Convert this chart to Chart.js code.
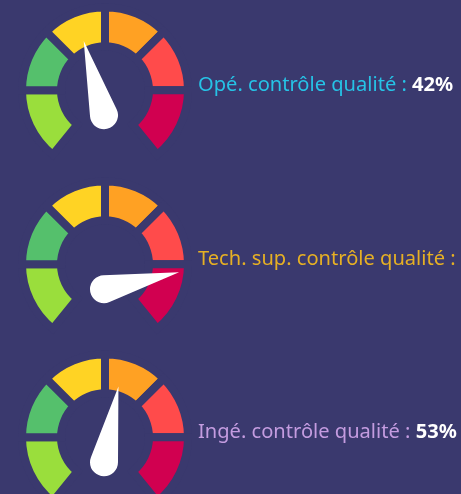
<!DOCTYPE html>
<html>
<head>
<meta charset="utf-8">
<script src="https://cdn.jsdelivr.net/npm/chart.js@4.4.1/dist/chart.umd.min.js"></script>
<style>
html, body { margin: 0; padding: 0; width: 461px; height: 494px; overflow: hidden; background: #3a396e; }
.gauge { position: absolute; left: 0; width: 210px; height: 162px; }
.label { position: absolute; left: 198px; white-space: nowrap; font-family: "Noto Sans", sans-serif; font-size: 20.1px; line-height: 24px; }
.label b { color: #ffffff; }
</style>
</head>
<body>
<canvas id="g0" class="gauge" width="210" height="162" style="top:0px"></canvas>
<canvas id="g1" class="gauge" width="210" height="162" style="top:174px"></canvas>
<canvas id="g2" class="gauge" width="210" height="162" style="top:347px"></canvas>
<div id="l0" class="label" style="top:72px;color:#26c3e6"></div>
<div id="l1" class="label" style="top:246px;color:#e6b024"></div>
<div id="l2" class="label" style="top:419px;color:#c49ce0"></div>
<script>
const jobs = ["Opé. contrôle qualité", "Tech. sup. contrôle qualité", "Ingé. contrôle qualité"];
const scores = [42, 81, 53];
// six bands, the two end bands are a little longer
const zones = [51, 45, 45, 45, 45, 51];
const zoneColors = ["#9ade3c", "#55c06c", "#ffd324", "#ffa123", "#ff4b4b", "#d10050"];

const bg = "#3a396e";

// needle angle (deg from vertical) for a score
function needleAngle(v) {
  return -114.8 + v * 2.37;
}

const needle = {
  id: "needle",
  afterDatasetsDraw(chart, args, opts) {
    const arc = chart.getDatasetMeta(0).data[0];
    const ctx = chart.ctx;
    const px = arc.x - 1, py = arc.y + 25;
    const L = 77, r = 14;
    const a = Math.acos(r / L);
    ctx.save();
    ctx.translate(px, py);
    ctx.rotate(needleAngle(opts.value) * Math.PI / 180);
    ctx.beginPath();
    ctx.moveTo(0, -L);
    ctx.lineTo(r * Math.sin(a), -r * Math.cos(a));
    ctx.arc(0, 0, r, -Math.PI / 2 + a, 3 * Math.PI / 2 - a, false);
    ctx.closePath();
    ctx.fillStyle = "#ffffff";
    ctx.fill();
    ctx.restore();
  }
};

jobs.forEach((job, i) => {
  new Chart("g" + i, {
    type: "doughnut",
    data: {
      labels: zoneColors.map((c, k) => "zone " + (k + 1)),
      datasets: [{
        data: zones,
        backgroundColor: zoneColors,
        borderColor: bg,
        borderWidth: 8,
        borderAlign: "center",
        borderJoinStyle: "miter"
      }]
    },
    options: {
      responsive: false,
      animation: false,
      rotation: -141,
      circumference: 282,
      radius: 83,
      cutout: "53%",
      layout: { padding: 0 },
      plugins: {
        legend: { display: false },
        tooltip: { enabled: false },
        needle: { value: scores[i] }
      }
    },
    plugins: [needle]
  });
  document.getElementById("l" + i).innerHTML = job + " : <b>" + scores[i] + "%</b>";
});
</script>
</body>
</html>
